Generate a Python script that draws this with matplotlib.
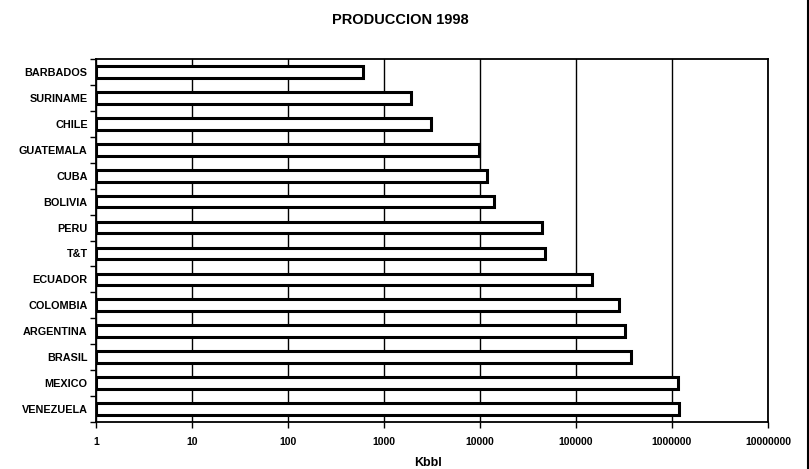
import numpy as np
import matplotlib.pyplot as plt
from matplotlib.lines import Line2D

plt.rcParams['font.family'] = ['Liberation Sans', 'DejaVu Sans']

# datos (Kbbl), de arriba hacia abajo
paises = ['BARBADOS', 'SURINAME', 'CHILE', 'GUATEMALA', 'CUBA', 'BOLIVIA', 'PERU',
          'T&T', 'ECUADOR', 'COLOMBIA', 'ARGENTINA', 'BRASIL', 'MEXICO', 'VENEZUELA']
produccion = [600, 1900, 3100, 9700, 11800, 14100, 44000,
              47500, 148000, 282000, 322000, 373000, 1150000, 1170000]
ticks_x = [1, 10, 100, 1000, 10000, 100000, 1000000, 10000000]

fig = plt.figure(figsize=(8.09, 4.69), dpi=100)
ax = fig.add_axes([0.1187, 0.1002, 0.8306, 0.774])

y = np.arange(len(paises))
vals = np.asarray(produccion, dtype=float)
ax.barh(y, vals - 1, left=1, height=0.45, color='white', edgecolor='black',
        linewidth=2.2, zorder=3)

ax.set_xscale('log')
ax.set_xlim(1, 1e7)
ax.set_ylim(len(paises) - 0.5, -0.5)
ax.set_xticks(ticks_x)
ax.set_xticklabels([str(t) for t in ticks_x], fontsize=7.5, fontweight='bold')
ax.xaxis.set_minor_locator(plt.NullLocator())
ax.tick_params(axis='x', length=4, width=1, pad=7, direction='out')

# etiquetas de paises sin marca, marcas en los limites entre categorias
ax.set_yticks(y)
ax.set_yticklabels(paises, fontsize=7.8, fontweight='bold')
ax.tick_params(axis='y', which='major', length=0, pad=6)
ax.set_yticks(np.arange(len(paises) + 1) - 0.5, minor=True)
ax.tick_params(axis='y', which='minor', length=4, width=1, direction='out')

ax.grid(axis='x', which='major', color='black', linewidth=1, zorder=1)
for s in ax.spines.values():
    s.set_linewidth(1.3)
    s.set_color('black')

fig.text(0.495, 0.957, 'PRODUCCION 1998', ha='center', va='center',
         fontsize=10.5, fontweight='bold')
fig.text(0.529, 0.013, 'Kbbl', ha='center', va='center', fontsize=9,
         fontweight='bold')

# borde derecho de la pagina escaneada
fig.add_artist(Line2D([0.9985, 0.9985], [0, 1], color='black', linewidth=1.5,
                      transform=fig.transFigure))

fig.savefig('out.png', dpi=100)
